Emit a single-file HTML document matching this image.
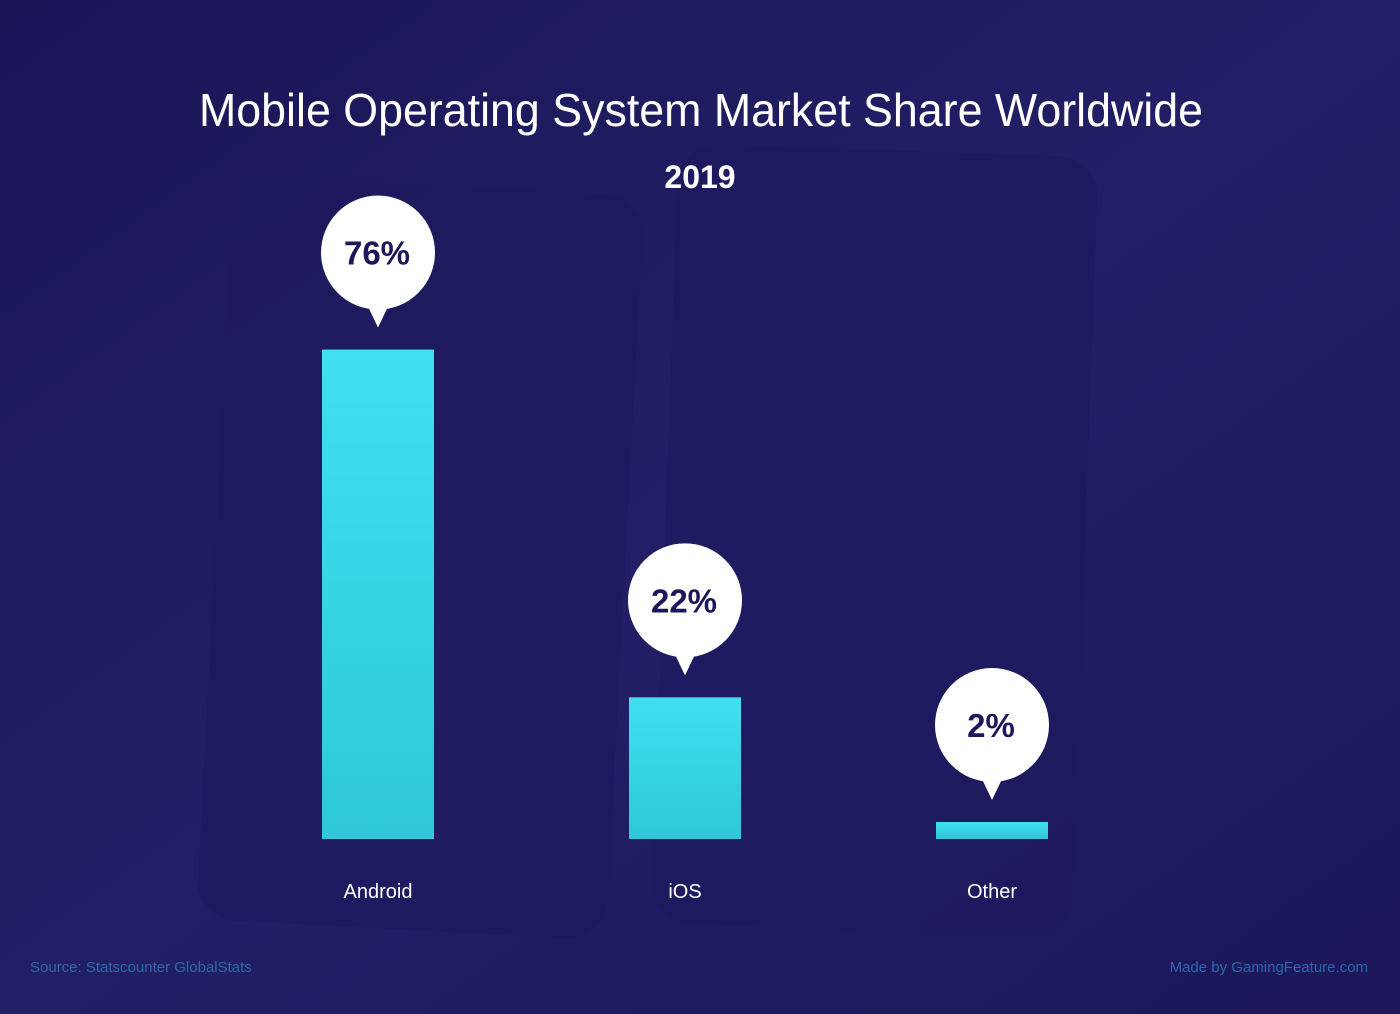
<!DOCTYPE html>
<html><head><meta charset="utf-8"><style>
body{margin:0;width:1400px;height:1014px;overflow:hidden;background:#1b175a;font-family:"Liberation Sans",sans-serif;}
svg{display:block}
</style></head><body>
<svg width="1400" height="1014">
<defs>
<linearGradient id="bg" x1="0" y1="0" x2="1" y2="1"><stop offset="0" stop-color="#1a1656"/><stop offset="0.5" stop-color="#221f66"/><stop offset="1" stop-color="#1b175a"/></linearGradient>
<linearGradient id="bar" x1="0" y1="0" x2="0" y2="1"><stop offset="0" stop-color="#40e0f0"/><stop offset="1" stop-color="#2ec8d8"/></linearGradient>
</defs>
<rect width="1400" height="1014" fill="url(#bg)"/>
<rect x="215" y="185" width="410" height="745" rx="40" fill="#1e1a5e" opacity="0.7" transform="rotate(3 420 560)"/>
<rect x="665" y="150" width="420" height="780" rx="40" fill="#1e1a5e" opacity="0.7" transform="rotate(2 875 540)"/>
<text x="199" y="126" textLength="1004" lengthAdjust="spacingAndGlyphs" fill="#fff" font-size="46">Mobile Operating System Market Share Worldwide</text>
<text x="700" y="188" text-anchor="middle" fill="#fff" font-size="32" font-weight="bold">2019</text>
<g id="bars"></g>
<text x="30" y="972" fill="#2c6aa6" font-size="15">Source: Statscounter GlobalStats</text>
<text x="1368" y="972" text-anchor="end" fill="#2c6aa6" font-size="15">Made by GamingFeature.com</text>
</svg>
<script>
const categories=["Android","iOS","Other"];
const values=[76,22,2];
const labels=["76%","22%","2%"];
const g=document.getElementById('bars');
const NS="http://www.w3.org/2000/svg";
const baseY=839, pxPer=6.44, barW=112;
function xPos(i){return 322+i*307;}
function yPos(v){return baseY-Math.max(v*pxPer,17);}
function mk(t,a){const e=document.createElementNS(NS,t);for(const k in a)e.setAttribute(k,a[k]);g.appendChild(e);return e;}
categories.forEach((c,i)=>{
 const x=xPos(i), y=yPos(values[i]), cx=x+barW/2;
 const r=mk('rect',{x:x,y:y,width:barW,height:baseY-y,fill:'url(#bar)'});
 
 
 const cy=y-97;
 const b=mk('path',{d:`M${cx-11} ${cy+52} L${cx} ${cy+75} L${cx+11} ${cy+52} Z`,fill:'#fff'});
 
 
 const ci=mk('circle',{cx:cx,cy:cy,r:57,fill:'#fff'});
 
 
 const t=mk('text',{x:cx-1,y:cy+12,'text-anchor':'middle','font-size':33,'font-weight':'bold',fill:'#1b175a'});
 t.textContent=labels[i];
 
 
 const l=mk('text',{x:cx,y:898,'text-anchor':'middle','font-size':20,fill:'#fff'});
 l.textContent=c;
 
 
});
</script>
</body></html>
